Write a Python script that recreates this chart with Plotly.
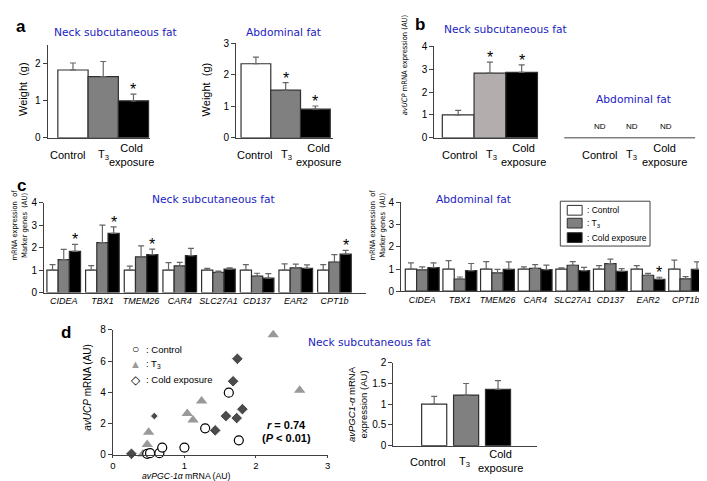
import plotly.graph_objects as go

# ---------------- data ----------------
conditions = ["Control", "T3", "Cold exposure"]

weight_neck = [1.83, 1.65, 1.00]
weight_neck_err = [0.19, 0.41, 0.18]
weight_abd = [2.35, 1.51, 0.91]
weight_abd_err = [0.21, 0.24, 0.10]

ucp_neck = [1.00, 2.82, 2.86]
ucp_neck_err = [0.20, 0.48, 0.32]

genes = ["CIDEA", "TBX1", "TMEM26", "CAR4", "SLC27A1", "CD137", "EAR2", "CPT1b"]
neck_ctrl = [1.00, 1.00, 1.00, 1.00, 1.00, 1.00, 1.00, 1.00]
neck_ctrl_err = [0.24, 0.20, 0.18, 0.33, 0.08, 0.24, 0.28, 0.24]
neck_t3 = [1.47, 2.22, 1.59, 1.19, 0.90, 0.73, 1.10, 1.36]
neck_t3_err = [0.45, 0.78, 0.49, 0.15, 0.05, 0.13, 0.17, 0.33]
neck_cold = [1.83, 2.63, 1.69, 1.64, 1.04, 0.64, 1.08, 1.71]
neck_cold_err = [0.31, 0.29, 0.24, 0.33, 0.06, 0.20, 0.15, 0.17]

abd_ctrl = [1.00, 1.00, 1.00, 1.00, 1.00, 1.00, 1.00, 1.00]
abd_ctrl_err = [0.28, 0.38, 0.33, 0.10, 0.05, 0.15, 0.15, 0.40]
abd_t3 = [0.96, 0.55, 0.83, 1.03, 1.17, 1.24, 0.72, 0.56]
abd_t3_err = [0.14, 0.09, 0.15, 0.17, 0.16, 0.21, 0.08, 0.10]
abd_cold = [1.06, 0.93, 0.99, 0.97, 0.93, 0.90, 0.54, 0.99]
abd_cold_err = [0.22, 0.32, 0.33, 0.21, 0.14, 0.12, 0.09, 0.33]

pgc_neck = [1.00, 1.22, 1.36]
pgc_neck_err = [0.19, 0.28, 0.21]

ctrl_pgc = [0.48, 0.52, 0.65, 0.69, 1.00, 1.29, 1.62, 1.76]
ctrl_ucp = [0.06, 0.10, 0.10, 0.46, 0.46, 1.69, 3.98, 0.92]
t3_pgc = [0.42, 0.48, 0.50, 1.04, 1.12, 1.24, 2.24, 2.61]
t3_ucp = [0.05, 0.65, 1.44, 2.65, 2.23, 3.44, 7.69, 4.13]
cold_pgc = [0.26, 0.58, 1.43, 1.58, 1.73, 1.81, 1.68, 1.74]
cold_ucp = [0.06, 2.48, 1.56, 2.48, 2.35, 2.92, 4.71, 6.15]

yticks_weight_neck = [0, 1, 2]
yticks_weight_abd = [0, 1, 2, 3]
yticks_ucp = [0, 1, 2, 3, 4]
yticks_marker = [0, 1, 2, 3, 4]
xticks_scatter = [0, 1, 2, 3]
yticks_scatter = [0, 2, 4, 6, 8]
yticks_pgc = [0, 0.5, 1, 1.5, 2]

# ---------------- styling ----------------
W, H = 707, 481
FONT = "Liberation Sans, Arial, sans-serif"
NARROW = "Liberation Sans Narrow, DejaVu Sans Condensed, Liberation Sans, Arial, sans-serif"
TFONT = "DejaVu Sans, Verdana, sans-serif"
BLUE = "#2222c0"
AXC = "#404040"
ERRC = "#666666"
WHITE, GRAY, BLACK, LGRAY = "#ffffff", "#808080", "#000000", "#b3adad"
cond_colors = [WHITE, GRAY, BLACK]


def xd(a, b):
    return [a / W, b / W]


def yd(top, bot):
    return [1 - bot / H, 1 - top / H]


fig = go.Figure()
lay = {}


def axes(i, xpx, ypx, xr, yr, ytv, yttext=None, xtv=None, xtt=None,
         xticks="", xfont=10, xticklen=4):
    sx = "" if i == 1 else str(i)
    lay["xaxis" + sx] = dict(
        domain=xd(*xpx), range=xr, anchor="y" + sx, showline=True,
        linecolor=AXC, linewidth=1, showgrid=False, zeroline=False,
        ticks=xticks, ticklen=xticklen, tickcolor=AXC,
        showticklabels=xtv is not None,
        tickvals=xtv, ticktext=xtt,
        tickfont=dict(size=xfont, family=FONT, color="black"),
        fixedrange=True)
    lay["yaxis" + sx] = dict(
        domain=yd(*ypx), range=yr, anchor="x" + sx, showline=True,
        linecolor=AXC, linewidth=1, showgrid=False, zeroline=False,
        ticks="outside", ticklen=4, tickcolor=AXC,
        tickvals=ytv, ticktext=yttext,
        tickfont=dict(size=10, family=FONT, color="black"),
        fixedrange=True)
    return "x" + sx, "y" + sx


def bars(ax, xs, ys, errs, colors, width):
    fig.add_trace(go.Bar(
        x=xs, y=ys, width=width, xaxis=ax[0], yaxis=ax[1],
        marker=dict(color=colors, line=dict(color="#303030", width=1.2)),
        error_y=dict(type="data", array=errs, arrayminus=[0] * len(errs),
                     symmetric=False, color=ERRC, thickness=1.2, width=3),
        showlegend=False, hoverinfo="skip"))


def A(x, y, text, size=11, color="black", family=FONT, xanchor="center",
      yanchor="middle", textangle=0):
    fig.add_annotation(x=x / W, y=1 - y / H, xref="paper", yref="paper",
                       text=text, showarrow=False,
                       font=dict(size=size, color=color, family=family),
                       xanchor=xanchor, yanchor=yanchor, textangle=textangle)


def star(ax, x, y):
    fig.add_annotation(x=x, y=y, xref=ax[0], yref=ax[1], text="*",
                       showarrow=False, yanchor="bottom", yshift=-6,
                       font=dict(size=16, family=FONT, color="black"))


idx3 = list(range(len(conditions)))

# ---- panel a (left) ----
a1 = axes(1, (37, 140), (32, 127), [-0.836, 2.54], [0, 2.5], yticks_weight_neck)
bars(a1, idx3, weight_neck, weight_neck_err, cond_colors, 1.0)
star(a1, 2, weight_neck[2] + weight_neck_err[2])

# ---- panel a (right) ----
a2 = axes(2, (227, 325), (30, 127), [-0.667, 2.6], [0, 3], yticks_weight_abd)
bars(a2, idx3, weight_abd, weight_abd_err, cond_colors, 1.0)
for i in (1, 2):
    star(a2, i, weight_abd[i] + weight_abd_err[i])

# ---- panel b ----
b1 = axes(3, (427, 532), (33, 127), [-0.75, 2.53], [0, 4], yticks_ucp)
bars(b1, idx3, ucp_neck, ucp_neck_err, [WHITE, LGRAY, BLACK], 1.0)
for i in (1, 2):
    star(b1, i, ucp_neck[i] + ucp_neck_err[i])
fig.add_shape(type="line", xref="paper", yref="paper",
              x0=558 / W, x1=690 / W, y0=1 - 127 / H, y1=1 - 127 / H,
              line=dict(color=AXC, width=1))

# ---- panel c ----
gidx = list(range(len(genes)))
gt = ["<i>%s</i>" % g for g in genes]
c1 = axes(4, (33.3, 358), (193.5, 285.7), [-0.51, 7.815], [0, 4], yticks_marker,
          xtv=gidx, xtt=gt, xfont=9)
wc = 0.29
for off, ys, es, col in ((-wc, neck_ctrl, neck_ctrl_err, WHITE),
                         (0, neck_t3, neck_t3_err, GRAY),
                         (wc, neck_cold, neck_cold_err, BLACK)):
    bars(c1, [g + off for g in gidx], ys, es, col, wc)
for g in (0, 1, 2, 7):
    star(c1, g + wc, neck_cold[g] + neck_cold_err[g])

c2 = axes(5, (393.5, 707), (193.3, 284.3), [-0.56, 7.70], [0, 4], yticks_marker,
          xtv=gidx, xtt=gt, xfont=8.8)
wr = 0.30
for off, ys, es, col in ((-wr, abd_ctrl, abd_ctrl_err, WHITE),
                         (0, abd_t3, abd_t3_err, GRAY),
                         (wr, abd_cold, abd_cold_err, BLACK)):
    bars(c2, [g + off for g in gidx], ys, es, col, wr)
star(c2, 6 + wr, abd_cold[6] + abd_cold_err[6])

# ---- panel d scatter ----
d1 = axes(6, (102.7, 319.3), (324, 452), [0, 3], [0, 8], yticks_scatter,
          xtv=xticks_scatter, xtt=[str(v) for v in xticks_scatter],
          xticks="outside", xfont=9.5, xticklen=2)
fig.add_trace(go.Scatter(x=t3_pgc, y=t3_ucp, mode="markers", xaxis=d1[0], yaxis=d1[1],
                         marker=dict(symbol="triangle-up", size=10, color="#999999"),
                         showlegend=False, hoverinfo="skip", cliponaxis=False))
fig.add_trace(go.Scatter(x=ctrl_pgc, y=ctrl_ucp, mode="markers", xaxis=d1[0], yaxis=d1[1],
                         marker=dict(symbol="circle", size=9, color="white",
                                     line=dict(color="black", width=1.2)),
                         showlegend=False, hoverinfo="skip", cliponaxis=False))
cold_sizes = [9] * len(cold_pgc)
cold_sizes[1] = 6
fig.add_trace(go.Scatter(x=cold_pgc, y=cold_ucp, mode="markers", xaxis=d1[0], yaxis=d1[1],
                         marker=dict(symbol="diamond", size=cold_sizes, color="black"),
                         showlegend=False, hoverinfo="skip", cliponaxis=False))

# ---- panel d bar ----
d2 = axes(7, (385.5, 530.7), (357.7, 442.7), [-1.283, 3.227], [0, 2], yticks_pgc,
          yttext=["0", "0.5", "1", "1.5", "2"])
bars(d2, idx3, pgc_neck, pgc_neck_err, cond_colors, 0.786)

# ---------------- text ----------------
for t, x, y in (("a", 10, 13), ("b", 413, 11), ("c", 11, 176), ("d", 55, 327)):
    A(x, y, "<b>%s</b>" % t, size=17)

A(105.5, 19, "Neck subcutaneous fat", size=10.7, color=BLUE, family=TFONT)
A(275, 19, "Abdominal fat", size=10.7, color=BLUE, family=TFONT)
A(499, 16, "Neck subcutaneous fat", size=10.7, color=BLUE, family=TFONT)
A(628, 88, "Abdominal fat", size=10.7, color=BLUE, family=TFONT)
A(204.5, 190, "Neck subcutaneous fat", size=10.7, color=BLUE, family=TFONT)
A(466.5, 190, "Abdominal fat", size=10.7, color=BLUE, family=TFONT)
A(361.5, 337, "Neck subcutaneous fat", size=10.7, color=BLUE, family=TFONT)

A(12, 77, "Weight  (g)", size=11, textangle=-90)
A(197, 77, "Weight  (g)", size=11, textangle=-90)
A(397, 52, "<i>avUCP</i> mRNA expression (AU)", size=7.5, family=NARROW, textangle=-90)
A(9, 216, "mRNA expression  of<br>Marker genes  (AU)", size=7.5, family=NARROW, textangle=-90)
A(370, 216, "mRNA expression  of<br>Marker genes  (AU)", size=7.5, family=NARROW, textangle=-90)
A(77, 383, "<i>avUCP</i> mRNA (AU)", size=10, textangle=-90)
A(177, 473.8, "<i>avPGC-1α</i> mRNA (AU)", size=8.7)
A(349, 400, "<i>avPGC1-α</i> mRNA<br>expression (AU)", size=9.5, textangle=-90)

T3 = "T<sub>3</sub>"
COLD = "Cold<br>exposure"
for xs, y in (((57, 93, 122), 145), ((245.5, 278, 310), 145),
              ((452.5, 485, 517), 145), ((594, 626, 659), 145),
              ((420, 457, 494), 459)):
    A(xs[0], y, "Control", size=11)
    A(xs[1], y, T3, size=11)
    A(xs[2], y - 0.5, COLD, size=11)

for x in (594, 626, 661):
    A(x, 115, "ND", size=8)

A(278, 421.5, "<b><i>r</i> = 0.74</b>", size=11)
A(278, 435, "<b>(<i>P</i> < 0.01)</b>", size=11)

A(126, 344, "○", size=12)
A(126, 359, "<span style='color:#999999'>▲</span>", size=11)
A(126, 375, "◇", size=12)
A(134, 344, ": Control", size=9.5, xanchor="left")
A(134, 359, ": " + T3, size=9.5, xanchor="left")
A(134, 375, ": Cold exposure", size=9.5, xanchor="left")

fig.add_shape(type="rect", xref="paper", yref="paper",
              x0=554 / W, x1=644.5 / W, y0=1 - 238 / H, y1=1 - 192 / H,
              line=dict(color=AXC, width=1), fillcolor="white")
for col, yc, lab in ((WHITE, 201.3, ": Control"), (GRAY, 214.5, ": " + T3),
                     (BLACK, 229.3, ": Cold exposure")):
    fig.add_shape(type="rect", xref="paper", yref="paper",
                  x0=561 / W, x1=576 / W, y0=1 - (yc + 5) / H, y1=1 - (yc - 5) / H,
                  line=dict(color="#303030", width=1), fillcolor=col)
    A(579, yc, lab, size=8.5, xanchor="left")

fig.update_layout(
    width=W, height=H, margin=dict(l=0, r=0, t=0, b=0),
    paper_bgcolor="white", plot_bgcolor="rgba(0,0,0,0)",
    barmode="overlay", showlegend=False,
    font=dict(family=FONT, color="black"),
    **lay)

fig.write_html("out.html")
